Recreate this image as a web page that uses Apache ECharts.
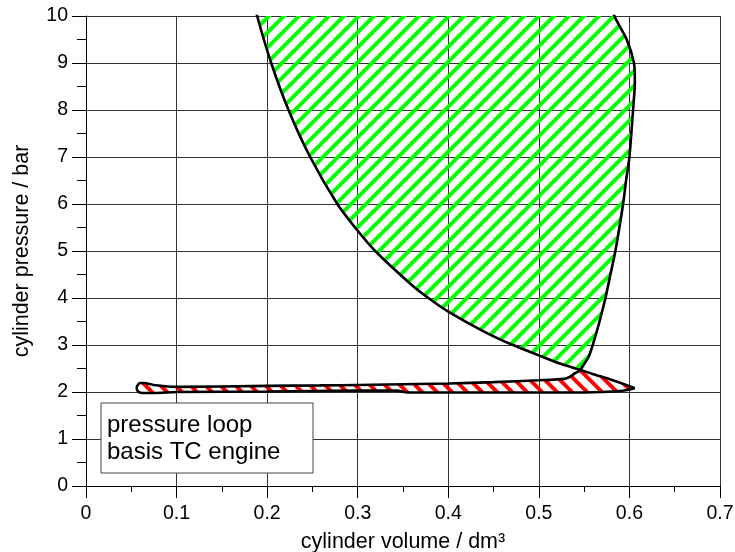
<!DOCTYPE html>
<html>
<head>
<meta charset="utf-8">
<script src="https://cdn.jsdelivr.net/npm/echarts@6/dist/echarts.min.js"></script>
<style>html,body{margin:0;padding:0;background:#fff}#c{width:735px;height:552px}</style>
</head>
<body>
<div id="c"></div>
<script>
// ---- data ----
// compression line: from BDC up to (beyond) the top of the chart
const compressionV = [0.606, 0.58, 0.56, 0.546, 0.524, 0.50, 0.47, 0.44, 0.40, 0.378, 0.36, 0.3193, 0.30, 0.2775, 0.2475, 0.2236, 0.2045, 0.189, 0.175];
const compressionP = [2.08, 2.26, 2.38, 2.47, 2.60, 2.78, 3.01, 3.28, 3.71, 4.00, 4.27, 5.00, 5.43, 6.00, 7.00, 8.00, 9.00, 10.0, 11.1];
const crossingIndex = 3; // compression point where it meets the expansion/blowdown line
// expansion + blowdown: from beyond the top down to the crossing point
const expansionV = [0.570, 0.5834, 0.597, 0.605, 0.606, 0.604, 0.600, 0.5963, 0.593, 0.5845, 0.579, 0.5735, 0.567, 0.5595, 0.555, 0.5475, 0.546];
const expansionP = [10.8, 10.0, 9.5, 9.0, 8.6, 8.0, 7.0, 6.5, 6.0, 5.0, 4.5, 4.0, 3.5, 3.0, 2.75, 2.52, 2.47];
// end of blowdown + exhaust stroke: to TDC
const exhaustV = [0.540, 0.534, 0.528, 0.50, 0.45, 0.40, 0.30, 0.2586, 0.20, 0.10, 0.0744, 0.0640, 0.0597, 0.056];
const exhaustP = [2.40, 2.32, 2.28, 2.25, 2.21, 2.18, 2.15, 2.14, 2.13, 2.11, 2.15, 2.19, 2.19, 2.10];
// intake stroke: from TDC back to BDC
const intakeV = [0.057, 0.062, 0.075, 0.10, 0.20, 0.30, 0.343, 0.355, 0.45, 0.55, 0.59, 0.606];
const intakeP = [2.02, 1.98, 1.98, 2.00, 2.01, 2.03, 2.03, 1.99, 1.99, 1.99, 2.02, 2.08];

const xTickLabels = ['0', '0.1', '0.2', '0.3', '0.4', '0.5', '0.6', '0.7'];
const yTickLabels = ['0', '1', '2', '3', '4', '5', '6', '7', '8', '9', '10'];
const legendLines = ['pressure loop', 'basis TC engine'];

// ---- build point lists ----
const zip = (vs, ps) => vs.map((v, i) => [v, ps[i]]);
const comp = zip(compressionV, compressionP);
const expa = zip(expansionV, expansionP);
const exh = zip(exhaustV, exhaustP);
const intk = zip(intakeV, intakeP);

const greenLoop = comp.slice(crossingIndex).concat(expa);
const redLoop = [expa[expa.length - 1]].concat(exh, intk, comp.slice(1, crossingIndex + 1));
const fullTrace = comp.concat(expa, exh, intk);

// hatch tile: many stripe periods per tile so tile seams are rare
function hatch(color, dir) {
  const step = 15, n = 20, s = step * n;
  const c = document.createElement('canvas');
  c.width = s; c.height = s;
  const g = c.getContext('2d');
  g.strokeStyle = color;
  g.lineWidth = 4;
  g.lineCap = 'square';
  g.beginPath();
  for (let k = -n - 1; k <= n + 1; k++) {
    const o = k * step;
    if (dir === '/') { g.moveTo(o - step, s + step); g.lineTo(o + s + step, -step); }
    else { g.moveTo(o - step, -step); g.lineTo(o + s + step, s + step); }
  }
  g.stroke();
  return c;
}
const greenPattern = { image: hatch('#00ff00', '/'), repeat: 'repeat' };
const redPattern = { image: hatch('#ff0000', '\\'), repeat: 'repeat' };

function polySeries(points, fill) {
  return {
    type: 'custom',
    clip: true,
    silent: true,
    z: 2,
    data: [0],
    renderItem: function (params, api) {
      return {
        type: 'polygon',
        shape: { points: points.map(p => api.coord(p)) },
        style: { fill: fill, stroke: null }
      };
    }
  };
}

const FONT = '"Liberation Sans", Arial, sans-serif';
const chart = echarts.init(document.getElementById('c'), null, { renderer: 'canvas' });

chart.setOption({
  animation: false,
  backgroundColor: '#fff',
  grid: { left: 86, right: 15, top: 16, bottom: 66, containLabel: false, outerBoundsMode: 'none' },
  xAxis: {
    type: 'value', min: 0, max: 0.7, interval: 0.1,
    name: 'cylinder volume / dm³', nameLocation: 'middle', nameGap: 45, nameMoveOverlap: false,
    nameTextStyle: { fontSize: 21.5, color: '#000', fontFamily: FONT },
    axisLine: { show: true, onZero: false, lineStyle: { color: '#000', width: 1 } },
    axisTick: { show: true, inside: false, length: 12, lineStyle: { color: '#000', width: 1 } },
    minorTick: { show: true, splitNumber: 2, length: 6, lineStyle: { color: '#000', width: 1 } },
    axisLabel: {
      fontSize: 19.5, color: '#000', margin: 18, fontFamily: FONT,
      formatter: (v) => xTickLabels[Math.round(v * 10)]
    },
    splitLine: { show: true, lineStyle: { color: '#333', width: 1 } },
    minorSplitLine: { show: false }
  },
  yAxis: {
    type: 'value', min: 0, max: 10, interval: 1,
    name: 'cylinder pressure / bar', nameLocation: 'middle', nameGap: 53, nameMoveOverlap: false,
    nameTextStyle: { fontSize: 21.5, color: '#000', fontFamily: FONT },
    axisLine: { show: true, onZero: false, lineStyle: { color: '#000', width: 1 } },
    axisTick: { show: true, inside: false, length: 14, lineStyle: { color: '#000', width: 1 } },
    minorTick: { show: true, splitNumber: 2, length: 9, lineStyle: { color: '#000', width: 1 } },
    axisLabel: {
      fontSize: 19.5, color: '#000', margin: 18, fontFamily: FONT,
      formatter: (v) => yTickLabels[Math.round(v)]
    },
    splitLine: { show: true, lineStyle: { color: '#333', width: 1 } }
  },
  graphic: [
    {
      type: 'rect', z: 100,
      shape: { x: 101, y: 403, width: 212, height: 70 },
      style: { fill: '#fff', stroke: '#444', lineWidth: 1 }
    },
    {
      type: 'text', z: 101, x: 107, y: 412,
      style: { text: legendLines.join('\n'), font: '24px ' + FONT, fill: '#000', lineHeight: 27, textVerticalAlign: 'top' }
    }
  ],
  series: [
    polySeries(greenLoop, greenPattern),
    polySeries(redLoop, redPattern),
    {
      type: 'line', data: fullTrace, showSymbol: false, symbol: 'none', smooth: 0.25,
      clip: true, z: 3, silent: true,
      lineStyle: { color: '#000', width: 2.6 }
    }
  ]
});
</script>
</body>
</html>
